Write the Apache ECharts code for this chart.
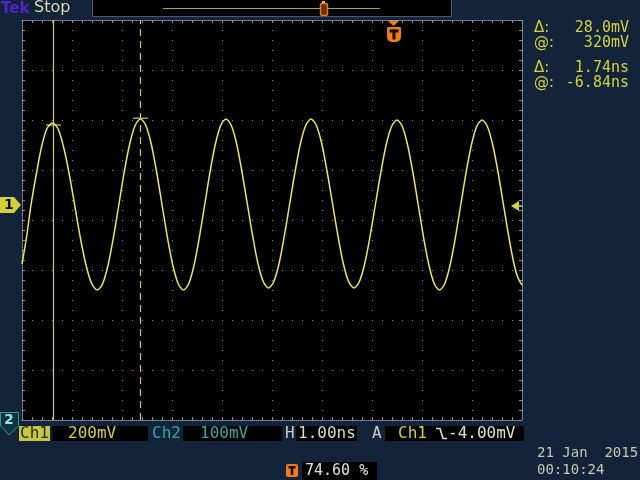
<!DOCTYPE html>
<html><head><meta charset="utf-8">
<script src="https://cdn.jsdelivr.net/npm/echarts@6/dist/echarts.min.js"></script>
<style>html,body{margin:0;padding:0;background:#13233a;}#c{width:640px;height:480px;}</style>
</head><body><div id="c"></div>
<script>
// Waveform samples: time (ns, relative to trigger) and Ch1 voltage (mV)
var timeNs = [-7.42,-7.33,-7.24,-7.13,-7.025,-6.92,-6.81,-6.70,-6.586,-6.474,-6.362,-6.25,-6.138,-6.026,
  -5.914,-5.806,-5.698,-5.59,-5.482,-5.374,-5.266,-5.158,-5.05,-4.943,-4.835,-4.728,-4.62,-4.513,
  -4.405,-4.298,-4.19,-4.084,-3.978,-3.872,-3.765,-3.658,-3.552,-3.446,-3.34,-3.234,-3.128,-3.022,
  -2.915,-2.808,-2.702,-2.596,-2.49,-2.384,-2.278,-2.172,-2.065,-1.958,-1.852,-1.746,-1.64,-1.532,
  -1.425,-1.318,-1.21,-1.102,-0.995,-0.888,-0.78,-0.672,-0.565,-0.458,-0.35,-0.242,-0.135,-0.028,
  0.08,0.186,0.292,0.398,0.505,0.612,0.718,0.824,0.93,1.036,1.142,1.248,1.355,1.462,1.568,1.674,
  1.78,1.888,1.995,2.102,2.21,2.318,2.425,2.50,2.58];
var ch1mV = [-236,-130,0,128,236,306,328,305,230,122,-6,-134,-242,-314,
  -340,-314,-240,-128,2,134,244,318,344,318,244,132,2,-128,
  -240,-314,-340,-314,-240,-128,2,134,244,318,344,318,245,134,
  6,-122,-233,-306,-332,-306,-233,-122,6,134,245,318,344,318,
  245,134,6,-122,-233,-306,-332,-306,-234,-124,4,132,242,314,
  340,314,240,130,0,-130,-240,-314,-340,-314,-240,-130,0,130,240,314,
  340,314,240,130,0,-130,-240,-292,-320];
// Cursors (time ns, level mV)
var cursorTimes = [-6.79, -5.05];
var cursorLevels = [320, 347];
// Screen ranges
var timeRange = [-7.42, 2.58];   // 10 div x 1.00 ns
var voltRange = [-860, 740];     // 8 div x 200 mV
var readoutLabels = ['Δ:', '@:', 'Δ:', '@:'];
var readoutValues = ['28.0mV', '320mV', '1.74ns', '-6.84ns'];

var wave = timeNs.map(function(t, i){ return [t, ch1mV[i]]; });
var cursorMarks = cursorTimes.map(function(t, i){ return [t, cursorLevels[i]]; });

var MONO = 'DejaVu Sans Mono';
var gridDot = '#8c8c8c';
var borderCol = '#8a90a8';
var yel = '#d2d23c';
var curCol = '#cfc86a';

function frameAxis(pos, isX, split){
  return {
    type: 'value', min: isX ? 0 : -4, max: isX ? 10 : 4, interval: 1, position: pos,
    axisLine: {show: true, onZero: false, lineStyle: {color: borderCol, width: 1, type: [1, 1]}},
    axisTick: {show: true, inside: true, length: 3, lineStyle: {color: borderCol}},
    minorTick: {show: true, splitNumber: 5, length: 3, lineStyle: {color: borderCol}},
    axisLabel: {show: false},
    splitLine: {show: split, lineStyle: {color: gridDot, width: 1, type: [1, 9]}},
    minorSplitLine: {show: false}
  };
}
function txt(x, y, text, fill, font, align){
  return {type:'text', x: x, y: y, style:{text: text, fill: fill, font: font,
    textAlign: align || 'left', align: align || 'left', textVerticalAlign: 'middle', verticalAlign: 'middle'}};
}

var g = [];
// top bar
g.push(txt(1, 9, 'Tek', '#5024c8', 'bold 15px "DejaVu Sans"'));
g.push(txt(34, 8, 'Stop', '#d8d8a8', '16px "DejaVu Sans"'));
g.push({type:'rect', shape:{x:92.5, y:-1, width:359, height:17.5}, style:{fill:'#000', stroke:'#4a5868', lineWidth:1}});
g.push({type:'line', shape:{x1:163, y1:8.5, x2:380, y2:8.5}, style:{stroke:'#a8a840', lineWidth:1}});
g.push({type:'rect', shape:{x:320.5, y:3.5, width:7, height:12, r:2}, style:{fill:'#6a3000', stroke:'#e87818', lineWidth:1.5}});
g.push({type:'line', shape:{x1:322, y1:2, x2:325, y2:2}, style:{stroke:'#e8c040', lineWidth:2}});
// trigger position marker
g.push({type:'polygon', shape:{points:[[387,20],[400,20],[393.5,26]]}, style:{fill:'#f07c18'}});
g.push({type:'rect', shape:{x:387, y:27, width:14, height:15, r:[1,1,5,5]}, style:{fill:'#f07c18'}});
g.push({type:'rect', shape:{x:389.5, y:29.5, width:9, height:3}, style:{fill:'#1a0a00'}});
g.push({type:'rect', shape:{x:392.5, y:29.5, width:3, height:10}, style:{fill:'#1a0a00'}});
// ch1 ground marker
g.push({type:'polygon', shape:{points:[[0,197],[14,197],[21,205],[14,213],[0,213]]}, style:{fill:yel}});
g.push(txt(4, 205, '1', '#101010', 'bold 14px "DejaVu Sans"'));
// trigger level arrow
g.push({type:'polygon', shape:{points:[[511,206],[519,201],[519,211]]}, style:{fill:yel}});
g.push({type:'line', shape:{x1:518, y1:206, x2:523, y2:206}, style:{stroke:yel, lineWidth:1.5}});
// ch2 marker
g.push({type:'polygon', shape:{points:[[0.5,412.5],[18.5,412.5],[18.5,426],[9,435],[0.5,426]]}, style:{fill:'#0f3440', stroke:'#2f9a9a', lineWidth:1}});
g.push(txt(4, 420, '2', '#9ae0e0', 'bold 14px "DejaVu Sans"'));
// right readouts
var ry = [28, 43, 68, 83];
readoutLabels.forEach(function(l, i){
  g.push(txt(534, ry[i], l, yel, '15px "DejaVu Sans"'));
  g.push(txt(629, ry[i], readoutValues[i], yel, '15px ' + MONO, 'right'));
});
// bottom status bar
g.push({type:'rect', shape:{x:19, y:426, width:31, height:15}, style:{fill:'#c6c640'}});
g.push(txt(20, 433.5, 'Ch1', '#2a2a10', '16px ' + MONO));
g.push({type:'rect', shape:{x:52, y:426, width:96, height:15}, style:{fill:'#000'}});
g.push(txt(68, 433.5, '200mV', yel, '16px ' + MONO));
g.push(txt(152, 433.5, 'Ch2', '#36a8a8', '16px ' + MONO));
g.push({type:'rect', shape:{x:183, y:426, width:99, height:15}, style:{fill:'#000'}});
g.push(txt(200, 433.5, '100mV', '#36a8a8', '16px ' + MONO));
g.push(txt(285, 433.5, 'H', '#c8ccc0', '16px ' + MONO));
g.push({type:'rect', shape:{x:296, y:426, width:61, height:15}, style:{fill:'#000'}});
g.push(txt(298, 433.5, '1.00ns', '#d8dcd0', '16px ' + MONO));
g.push(txt(372, 433.5, 'A', '#c8ccc0', '16px ' + MONO));
g.push({type:'rect', shape:{x:385, y:426, width:139, height:15}, style:{fill:'#000'}});
g.push(txt(398, 433.5, 'Ch1', yel, '16px ' + MONO));
g.push({type:'polyline', shape:{points:[[436,428.5],[440,428.5],[443,438.5],[447,438.5]]}, style:{stroke:'#e0e0d0', lineWidth:1.6, fill:null}});
g.push(txt(448, 433.5, '-4.00mV', '#e0e0d0', '16px ' + MONO));
g.push({type:'rect', shape:{x:286, y:464, width:12, height:13, r:2}, style:{fill:'#f07c18'}});
g.push({type:'rect', shape:{x:288.5, y:466, width:7, height:2.5}, style:{fill:'#1a0a00'}});
g.push({type:'rect', shape:{x:290.8, y:466, width:2.5, height:9}, style:{fill:'#1a0a00'}});
g.push({type:'rect', shape:{x:302, y:462, width:75, height:18}, style:{fill:'#000'}});
g.push(txt(305, 471, '74.60 %', '#e0e0e0', '15px ' + MONO));
g.push(txt(537, 453, '21 Jan  2015', '#c8c8b0', '14px ' + MONO));
g.push(txt(537, 470, '00:10:24', '#c8c8b0', '14px ' + MONO));

var chart = echarts.init(document.getElementById('c'), null, {renderer:'canvas'});
chart.setOption({
  backgroundColor: '#13233a',
  animation: false,
  grid: {left: 22, right: 118, top: 20, bottom: 60, show: true, backgroundColor: '#000', borderWidth: 0},
  xAxis: [
    frameAxis('bottom', true, true),
    {type:'value', min: timeRange[0], max: timeRange[1], show: false},
    frameAxis('top', true, false)
  ],
  yAxis: [
    frameAxis('left', false, true),
    {type:'value', min: voltRange[0], max: voltRange[1], show: false},
    frameAxis('right', false, false)
  ],
  graphic: g,
  series: [
    {type:'line', xAxisIndex:1, yAxisIndex:1, data: wave, smooth: 0.3, showSymbol:false, clip:true,
     lineStyle:{color:'#e8e858', width:1.5},
     markLine:{silent:true, symbol:['none','none'], label:{show:false},
       data:[
         {xAxis: cursorTimes[0], lineStyle:{color:curCol, width:1.2, type:'solid'}},
         {xAxis: cursorTimes[1], lineStyle:{color:curCol, width:1.2, type:[7,5]}}
       ]}},
    {type:'scatter', xAxisIndex:1, yAxisIndex:1, data: cursorMarks, symbol:'rect', symbolSize:[15,1.5],
     itemStyle:{color:curCol}}
  ]
});
</script></body></html>
